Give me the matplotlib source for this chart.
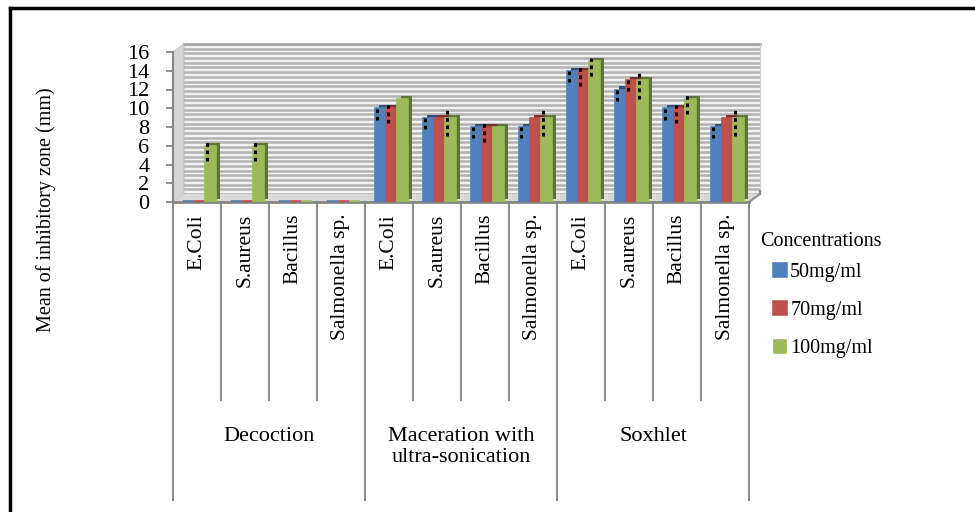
import numpy as np
import matplotlib
matplotlib.use('Agg')
import matplotlib.pyplot as plt
import matplotlib.patheffects as pe
from matplotlib.patches import Polygon
from matplotlib.lines import Line2D

plt.rcParams['font.family'] = ['Liberation Serif', 'DejaVu Serif']

# data
methods = ['Decoction', 'Maceration with\nultra-sonication', 'Soxhlet']
bacteria = ['E.Coli', 'S.aureus', 'Bacillus', 'Salmonella sp.']
series = ['50mg/ml', '70mg/ml', '100mg/ml']
colors = ['#4f81bd', '#c0504d', '#9bbb59']
v50 = [0, 0, 0, 0, 10, 9, 8, 8, 14, 12, 10, 8]
v70 = [0, 0, 0, 0, 10, 9, 8, 9, 14, 13, 10, 9]
v100 = [6, 6, 0, 0, 11, 9, 8, 9, 15, 13, 11, 9]
e50 = [0, 0, 0, 0, 0.6, 0.6, 0.6, 0.6, 0.6, 0.6, 0.6, 0.6]
e70 = [0, 0, 0, 0, 1.0, 0, 1.0, 0, 1.0, 0.6, 1.0, 0]
e100 = [1.0, 1.0, 0, 0, 0, 1.4, 0, 1.4, 1.0, 1.4, 1.0, 1.4]
values = [v50, v70, v100]
errors = [e50, e70, e100]

W, H = 975, 512
fig = plt.figure(figsize=(W / 100, H / 100), dpi=100)

def fx(px):
    return px / W

def fy(py):
    return 1 - py / H

def fpoly(pts, **kw):
    fig.add_artist(Polygon([(fx(x), fy(y)) for x, y in pts], closed=True,
                           transform=fig.transFigure, zorder=0.5, **kw))

# frame (only top and left visible)
fig.add_artist(Line2D([fx(10), fx(10)], [fy(8), 0], color='black', lw=2.5, transform=fig.transFigure))
fig.add_artist(Line2D([fx(10), 1], [fy(8), fy(8)], color='black', lw=2.5, transform=fig.transFigure))

# plot area in pixels
L, R, T, B = 173, 749, 52, 202
dx, dy = 11, 8

# back wall with stripes
wall = fig.add_axes([fx(L + dx), fy(B - dy), fx(R - L), (B - T) / H])
wall.set_zorder(0)
wall.set_xlim(0, 1)
wall.set_ylim(0, 16)
wall.set_facecolor('#f2f2f2')
wall.set_yticks(np.arange(0, 16.01, 0.5))
wall.grid(axis='y', color='#b2b2b2', lw=1.8)
wall.tick_params(left=False, bottom=False, labelleft=False, labelbottom=False)
for s in wall.spines.values():
    s.set_visible(False)
wall.plot([0, 1], [16, 16], color='#a6a6a6', lw=2, clip_on=False)
wall.plot([1, 1], [0, 16], color='#d0d0d0', lw=1, clip_on=False)

# side wall and floor
fpoly([(L, B), (L, T), (L + dx, T - dy), (L + dx, B - dy)], facecolor='#d6d6d6', edgecolor='#b8b8b8', lw=0.6)
fpoly([(L, B), (R, B), (R + dx, B - dy), (L + dx, B - dy)], facecolor='#d9d9d9', edgecolor='none')
fig.add_artist(Line2D([fx(R), fx(R + dx)], [fy(B), fy(B - dy)], color='#8c8c8c', lw=1.5,
                      transform=fig.transFigure, zorder=0.6))
fig.add_artist(Line2D([fx(R + dx), fx(R + dx)], [fy(B - dy), fy(B - dy - 3)], color='#8c8c8c', lw=1.5,
                      transform=fig.transFigure, zorder=0.6))

ax = fig.add_axes([fx(L), fy(B), fx(R - L), (B - T) / H])
ax.set_zorder(1)
ax.patch.set_visible(False)
ax.set_xlim(0, 12)
ax.set_ylim(0, 16)

x = np.arange(12) + 0.55
bw = 0.23
for k in range(3):
    xs = x + (k - 1) * bw
    bars = ax.bar(xs, values[k], width=bw, color=colors[k], edgecolor=colors[k], lw=1.2,
                  label=series[k], zorder=3)
    for b, v in zip(bars, values[k]):
        b.set_path_effects([pe.SimplePatchShadow(offset=(2.8, 2.2), alpha=1, rho=0.62), pe.Normal()])
        if v == 0:
            b.set_linewidth(2.6)   # flat slab on the floor
    err = np.array(errors[k])
    m = err > 0
    eb = ax.errorbar(xs[m] - 0.07, np.array(values[k])[m] - 0.6, yerr=err[m], fmt='none',
                     ecolor='black', elinewidth=2.2, capsize=0, zorder=4)
    eb[2][0].set_linestyle((0, (1.2, 1.2)))

ax.set_yticks(range(0, 17, 2))
ax.tick_params(axis='y', direction='out', length=5, width=1.3, color='#868686',
               labelsize=16, pad=12)
ax.set_xticks([])
ax.spines['top'].set_visible(False)
ax.spines['right'].set_visible(False)
ax.spines['left'].set_color('#868686')
ax.spines['left'].set_linewidth(1.5)
ax.spines['bottom'].set_color('#868686')
ax.spines['bottom'].set_linewidth(2)

# category axis below the plot
tr = ax.get_xaxis_transform()
ph = B - T

def ay(py):
    return -(py - B) / ph

for i in range(13):
    bottom = 500 if i % 4 == 0 else 400
    ax.plot([i, i], [0, ay(bottom)], color='#8c8c8c', lw=1.5, transform=tr, clip_on=False)
for i in range(12):
    ax.text(i + 0.5, ay(214), bacteria[i % 4], rotation=90, ha='center', va='top',
            fontsize=15.5, transform=tr)
for g in range(3):
    ax.text(g * 4 + 2, ay(427), methods[g], ha='center', va='top', fontsize=16,
            linespacing=1.15, transform=tr)

fig.text(fx(46), fy(210), 'Mean of inhibitory zone (mm)', rotation=90, ha='center',
         va='center', fontsize=14.5)

fig.text(fx(760), fy(242), 'Concentrations', ha='left', va='center', fontsize=14.5)
leg = fig.legend(loc='upper left', bbox_to_anchor=(fx(766), fy(255)),
                 frameon=False, fontsize=14.5, handlelength=0.6,
                 handleheight=0.6, handletextpad=0.2, labelspacing=0.95, borderaxespad=0)
for h in leg.legend_handles:
    h.set_path_effects([])

fig.savefig('out.png', dpi=100)
